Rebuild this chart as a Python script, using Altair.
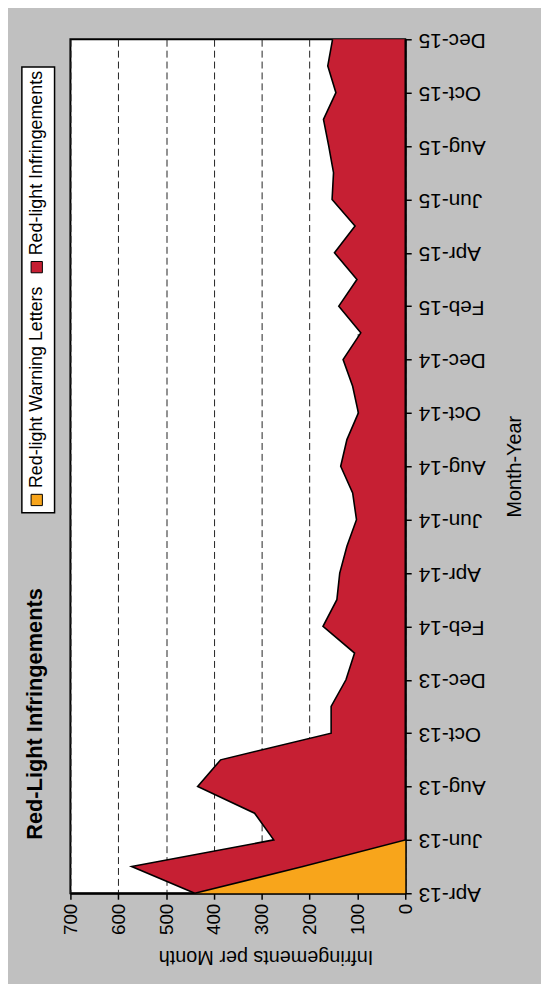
import json
import altair as alt
import pandas as pd

# ---------------- data ----------------
months = ["Apr-13", "May-13", "Jun-13", "Jul-13", "Aug-13", "Sep-13", "Oct-13", "Nov-13",
          "Dec-13", "Jan-14", "Feb-14", "Mar-14", "Apr-14", "May-14", "Jun-14", "Jul-14",
          "Aug-14", "Sep-14", "Oct-14", "Nov-14", "Dec-14", "Jan-15", "Feb-15", "Mar-15",
          "Apr-15", "May-15", "Jun-15", "Jul-15", "Aug-15", "Sep-15", "Oct-15", "Nov-15",
          "Dec-15"]

warning_letters = [440, 214, 0, 0, 0, 0, 0, 0, 0, 0, 0, 0, 0, 0, 0, 0, 0,
                   0, 0, 0, 0, 0, 0, 0, 0, 0, 0, 0, 0, 0, 0, 0, 0]

infringements = [0, 358, 275, 315, 434, 386, 155, 155, 124, 106, 172, 143, 137, 122, 102, 110,
                 135, 122, 98, 110, 130, 93, 139, 101, 148, 105, 153, 150, 160, 171, 145, 162,
                 152]

series_names = ["Red-light Warning Letters", "Red-light Infringements"]
series_colors = ["#F8A51B", "#C61F33"]

y_ticks = list(range(0, 701, 100))

# ---------------- table ----------------
df = pd.DataFrame({"idx": list(range(len(months))), "month": months,
                   "warn": warning_letters, "infr": infringements})

F = "Liberation Sans"
W, H = 338, 862

label_expr = "datum.value % 2 == 0 ? " + json.dumps(months) + "[datum.value] : ''"

x_scale = alt.Scale(domain=[0, 700], reverse=True, nice=False, zero=True)
y_scale = alt.Scale(domain=[0, len(months) - 1], nice=False, zero=False)

x_axis = alt.Axis(values=y_ticks, title="Infringements per Month",
                  titleAngle=180, titleX=197, titleY=64,
                  titleAlign="center", titleBaseline="middle",
                  titleFont=F, titleFontSize=20, titleFontWeight="normal",
                  titleColor="black",
                  labelAngle=270, labelAlign="right", labelBaseline="middle",
                  labelFont=F, labelFontSize=19, labelColor="black",
                  labelPadding=4, labelFlush=False, labelOverlap=False,
                  labelBound=False,
                  tickSize=6, tickColor="black", tickWidth=1.5,
                  domainColor="black", domainWidth=2,
                  grid=True, gridColor="#222222", gridDash=[7, 4], gridWidth=1)

y_axis = alt.Axis(orient="right", values=list(range(len(months))),
                  labelExpr=label_expr,
                  title="Month-Year", titleAngle=270, titleX=110, titleY=H / 2,
                  titleAlign="center", titleBaseline="middle",
                  titleFont=F, titleFontSize=20, titleFontWeight="normal",
                  titleColor="black",
                  labelAngle=180, labelAlign="right", labelBaseline="middle",
                  labelFont=F, labelFontSize=21, labelColor="black",
                  labelPadding=7, labelFlush=False, labelOverlap=False,
                  labelBound=False,
                  tickSize=6, tickColor="black", tickWidth=1.5,
                  domainColor="black", domainWidth=2, grid=False)

base = alt.Chart(df).transform_calculate(top="datum.warn + datum.infr")

# red fill: infringements stacked on top of the warning letters
red_area = base.mark_area(orient="horizontal", opacity=1, color=series_colors[1]).encode(
    x=alt.X("top:Q", scale=x_scale, axis=x_axis),
    x2="warn:Q",
    y=alt.Y("idx:Q", scale=y_scale, axis=y_axis),
)

orange_area = base.mark_area(orient="horizontal", opacity=1, color=series_colors[0]).encode(
    x=alt.X("warn:Q", scale=x_scale, stack=None),
    y=alt.Y("idx:Q", scale=y_scale),
)

# black outlines
red_line = base.mark_line(color="black", strokeWidth=1.6).encode(
    x=alt.X("top:Q", scale=x_scale),
    y=alt.Y("idx:Q", scale=y_scale),
    order=alt.Order("idx:Q"),
)
orange_line = base.mark_line(color="black", strokeWidth=1.6).encode(
    x=alt.X("warn:Q", scale=x_scale),
    y=alt.Y("idx:Q", scale=y_scale),
    order=alt.Order("idx:Q"),
)

# ---------------- title (rotated, left side) ----------------
title_df = pd.DataFrame({"t": ["Red-Light Infringements"]})
title = alt.Chart(title_df).mark_text(
    angle=270, align="center", baseline="middle", font=F, fontSize=22,
    fontWeight="bold", color="black"
).encode(text="t:N", x=alt.value(-36), y=alt.value(681))

# ---------------- legend (rotated, left side) ----------------
leg_df = pd.DataFrame({"series": series_names, "color": series_colors})
box = alt.Chart(pd.DataFrame({"k": [0]})).mark_rect(
    fill="white", stroke="black", strokeWidth=1.5
).encode(x=alt.value(-49), x2=alt.value(-16), y=alt.value(28), y2=alt.value(478))

legend_y = {series_names[0]: 465, series_names[1]: 230}
legend_layers = []
for name, col in zip(series_names, series_colors):
    sq = alt.Chart(leg_df).transform_filter(alt.datum.series == name).mark_square(
        size=130, fill=col, stroke="black", strokeWidth=1, opacity=1, filled=True
    ).encode(x=alt.value(-34), y=alt.value(legend_y[name]))
    tx = alt.Chart(leg_df).transform_filter(alt.datum.series == name).mark_text(
        angle=270, align="left", baseline="middle", font=F, fontSize=18, color="black"
    ).encode(text="series:N", x=alt.value(-34), y=alt.value(legend_y[name] - 12))
    legend_layers += [sq, tx]

chart = (
    alt.layer(red_area, orange_area, red_line, orange_line, title, box, *legend_layers)
    .properties(width=W, height=H, background="#C0C0C0",
                padding={"left": 63, "top": 27, "right": 137, "bottom": 87},
                autosize=alt.AutoSizeParams(type="none"))
    .configure_view(fill="white", stroke="black", strokeWidth=2)
)

chart.save("out.html", embed_options={"renderer": "svg", "actions": False})
